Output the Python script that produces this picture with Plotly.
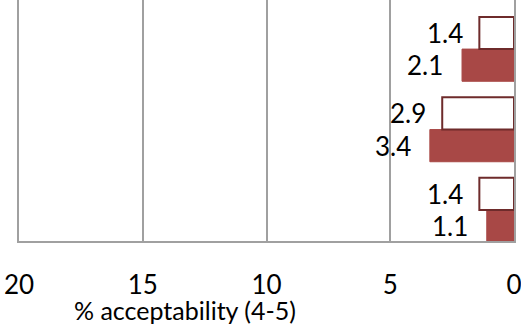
import plotly.graph_objects as go

categories = ["C", "B", "A"]          # bottom to top
white_vals = [1.4, 2.9, 1.4]
red_vals = [1.1, 3.4, 2.1]
x_ticks = [20, 15, 10, 5, 0]
axis_title = "% acceptability (4-5)"

ypos = list(range(len(categories)))
font_family = "Lato, Carlito, sans-serif"

fig = go.Figure()
fig.add_trace(go.Bar(
    y=ypos, x=red_vals, orientation="h",
    marker=dict(color="#A84846", line=dict(color="#A84846", width=1)),
    showlegend=False, hoverinfo="skip",
))
fig.add_trace(go.Bar(
    y=ypos, x=white_vals, orientation="h",
    marker=dict(color="white", line=dict(color="#6E2B2B", width=2)),
    showlegend=False, hoverinfo="skip",
))

# value labels
for i, (w, r) in enumerate(zip(white_vals, red_vals)):
    fig.add_annotation(x=w, y=i + 0.2, text=f"{w}", showarrow=False,
                       xanchor="right", yanchor="middle", xshift=-14,
                       font=dict(size=26, color="black", family=font_family))
    fig.add_annotation(x=r, y=i - 0.2, text=f"{r}", showarrow=False,
                       xanchor="right", yanchor="middle", xshift=-17,
                       font=dict(size=26, color="black", family=font_family))

fig.add_annotation(text=axis_title, xref="paper", yref="paper",
                   x=(185 - 19) / 495, y=-0.287, showarrow=False,
                   xanchor="center", yanchor="middle",
                   font=dict(size=25, color="black", family=font_family))

fig.update_layout(
    width=521, height=325,
    margin=dict(l=19, r=7, t=0, b=84, autoexpand=False),
    paper_bgcolor="white", plot_bgcolor="white",
    barmode="group", bargap=0.2, bargroupgap=0,
    font=dict(family=font_family, color="black"),
    xaxis=dict(range=[20, 0], tickvals=x_ticks, ticktext=[str(t) for t in x_ticks],
               showgrid=True, gridcolor="#A0A0A0", gridwidth=1.5,
               zeroline=False, showline=True, linecolor="#A0A0A0", linewidth=1.5,
               tickfont=dict(size=26, color="black"), ticklabelstandoff=20,
               ticklabeloverflow="allow",
               automargin=False, fixedrange=True),
    yaxis=dict(range=[-0.385, 2.61], showticklabels=False, showgrid=False,
               zeroline=False, showline=True, mirror=True,
               linecolor="#A0A0A0", linewidth=1.5,
               automargin=False, fixedrange=True),
)

fig.write_html("out.html", config={"displayModeBar": False},
               post_script="document.body.style.margin='0';document.body.style.overflow='hidden';")
